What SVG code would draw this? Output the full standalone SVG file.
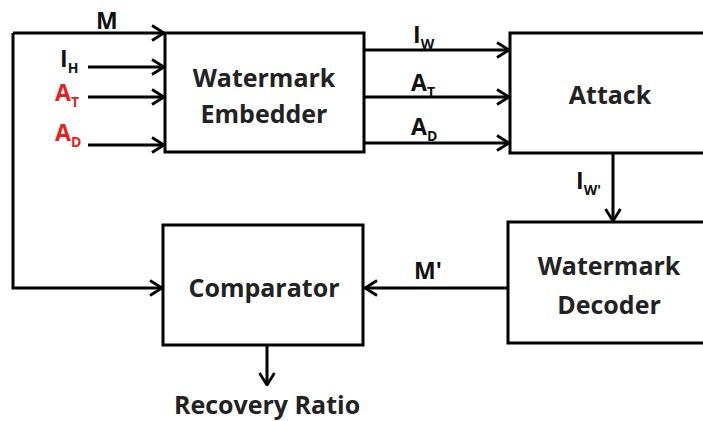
<svg xmlns="http://www.w3.org/2000/svg" width="703" height="421" viewBox="0 0 703 421">
<style>
.box{fill:#fff;stroke:#000;stroke-width:3}
.ln{fill:none;stroke:#000;stroke-width:3}
.t{font-family:"Open Sans","DejaVu Sans",sans-serif;font-weight:bold;font-size:25px;fill:#222;text-anchor:middle}
.l{font-family:"Open Sans","DejaVu Sans",sans-serif;font-weight:bold;font-size:23px;fill:#111}
.s{font-size:14px}
.r{fill:#e8201c}
</style>
<defs>
<marker id="a" viewBox="0 0 14 18" refX="13" refY="9" markerWidth="14" markerHeight="18" markerUnits="userSpaceOnUse" orient="auto">
<path d="M1 1.5 L13 9 L1 16.5" fill="none" stroke="#000" stroke-width="2.8"/>
</marker>
</defs>
<g id="connectors">
<path class="ln" d="M13 33 H164" marker-end="url(#a)"/>
<path class="ln" d="M13 33 V288 H162" marker-end="url(#a)"/>
<path class="ln" d="M88 67 H164" marker-end="url(#a)"/>
<path class="ln" d="M88 97 H164" marker-end="url(#a)"/>
<path class="ln" d="M88 145 H164" marker-end="url(#a)"/>
<path class="ln" d="M365 50 H509" marker-end="url(#a)"/>
<path class="ln" d="M365 97 H509" marker-end="url(#a)"/>
<path class="ln" d="M365 143 H509" marker-end="url(#a)"/>
<path class="ln" d="M613 153 V221" marker-end="url(#a)"/>
<path class="ln" d="M508 288 H365" marker-end="url(#a)"/>
<path class="ln" d="M267 345 V385" marker-end="url(#a)"/>
</g>
<g id="labels">
<text class="l" x="96" y="29">M</text>
<text class="l" x="60" y="67">I<tspan class="s" dy="6">H</tspan></text>
<text class="l r" x="55" y="101">A<tspan class="s" dy="6">T</tspan></text>
<text class="l r" x="55" y="141">A<tspan class="s" dy="6">D</tspan></text>
<text class="l" x="413" y="43">I<tspan class="s" dy="6">W</tspan></text>
<text class="l" x="411" y="91">A<tspan class="s" dy="6">T</tspan></text>
<text class="l" x="411" y="135">A<tspan class="s" dy="6">D</tspan></text>
<text class="l" x="576" y="189">I<tspan class="s" dy="6">W'</tspan></text>
<text class="l" x="414" y="279">M'</text>
<text class="t" x="267" y="414">Recovery Ratio</text>
</g>
<g id="embedder">
<rect class="box" x="165" y="33" width="199" height="119"/>
<text class="t" x="264" y="87">Watermark</text>
<text class="t" x="264" y="123">Embedder</text>
</g>
<g id="attack">
<rect class="box" x="510" y="33" width="200" height="120"/>
<text class="t" x="610" y="104">Attack</text>
</g>
<g id="decoder">
<rect class="box" x="508" y="222" width="202" height="121"/>
<text class="t" x="609" y="275">Watermark</text>
<text class="t" x="609" y="314">Decoder</text>
</g>
<g id="comparator">
<rect class="box" x="163" y="225" width="200" height="120"/>
<text class="t" x="264" y="297">Comparator</text>
</g>
</svg>
